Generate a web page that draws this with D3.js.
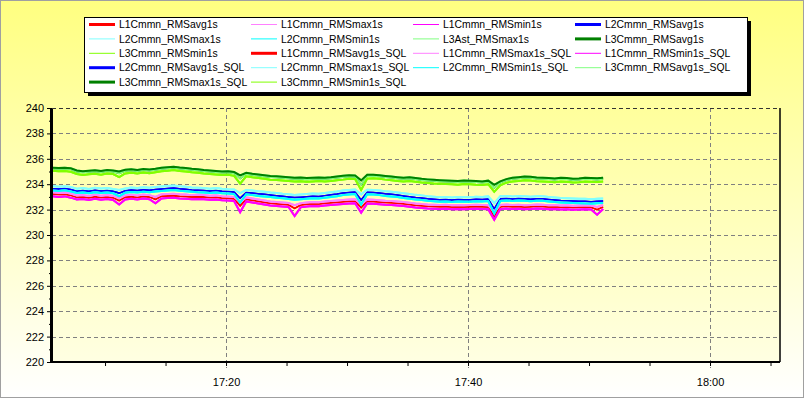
<!DOCTYPE html>
<html>
<head>
<meta charset="utf-8">
<script src="https://cdn.jsdelivr.net/npm/d3@7"></script>
<style>
  html, body { margin: 0; padding: 0; background: #fff; }
  svg { display: block; font-family: "Liberation Sans", Arial, sans-serif; }
</style>
</head>
<body>
<div id="chart"></div>
<script>
"use strict";

const W = 804, H = 398

// samples: every 30 s starting 17:05:40
const START = new Date(2020, 0, 1, 17, 5, 40)
const STEP_SEC = 30

const l1Avg = [233.22,233.18,233.20,233.12,232.98,233.00,232.94,233.02,232.96,233.00,232.94,232.70,232.98,233.02,232.98,233.04,233.00,232.80,233.06,233.08,233.10,233.06,233.04,233.00,233.02,233.00,232.96,232.98,232.92,232.90,232.86,232.30,232.82,232.74,232.66,232.58,232.50,232.46,232.42,232.38,232.10,232.36,232.42,232.46,232.44,232.50,232.54,232.58,232.62,232.66,232.68,232.15,232.66,232.64,232.60,232.56,232.54,232.50,232.46,232.40,232.34,232.30,232.26,232.24,232.22,232.24,232.20,232.22,232.20,232.22,232.24,232.22,232.20,231.45,232.22,232.26,232.22,232.24,232.20,232.22,232.26,232.24,232.20,232.22,232.18,232.20,232.16,232.18,232.20,232.18,232.00,232.22]
const l1Max = [233.36,233.32,233.34,233.26,233.12,233.14,233.08,233.16,233.10,233.14,233.08,232.90,233.12,233.16,233.12,233.18,233.14,233.00,233.20,233.22,233.24,233.20,233.18,233.14,233.16,233.14,233.10,233.12,233.06,233.04,233.00,232.60,232.96,232.88,232.80,232.72,232.64,232.60,232.56,232.52,232.35,232.50,232.56,232.60,232.58,232.64,232.68,232.72,232.76,232.80,232.82,232.45,232.80,232.78,232.74,232.70,232.68,232.64,232.60,232.54,232.48,232.44,232.40,232.38,232.36,232.38,232.34,232.36,232.34,232.36,232.38,232.36,232.34,231.85,232.36,232.40,232.36,232.38,232.34,232.36,232.40,232.38,232.34,232.36,232.32,232.34,232.30,232.32,232.34,232.32,232.20,232.36]
const l1Min = [233.06,233.00,233.04,232.94,232.80,232.84,232.76,232.86,232.78,232.84,232.76,232.40,232.80,232.86,232.80,232.88,232.82,232.50,232.88,232.92,232.94,232.88,232.86,232.82,232.84,232.82,232.78,232.80,232.74,232.72,232.68,231.80,232.64,232.56,232.48,232.40,232.32,232.28,232.24,232.20,231.50,232.18,232.24,232.28,232.26,232.32,232.36,232.40,232.44,232.48,232.50,231.75,232.48,232.46,232.42,232.38,232.36,232.32,232.28,232.22,232.16,232.12,232.08,232.06,232.04,232.06,232.02,232.04,232.02,232.04,232.06,232.04,232.02,231.20,232.04,232.08,232.04,232.06,232.02,232.04,232.08,232.06,232.02,232.04,232.00,232.02,231.98,232.00,232.02,232.00,231.60,232.04]

const l2Avg = [233.65,233.62,233.66,233.58,233.45,233.50,233.44,233.52,233.46,233.50,233.44,233.30,233.48,233.54,233.50,233.56,233.52,233.58,233.62,233.66,233.70,233.64,233.60,233.55,233.52,233.50,233.46,233.50,233.44,233.42,233.38,232.90,233.35,233.30,233.24,233.20,233.15,233.10,233.05,233.00,232.95,232.98,233.02,233.06,233.04,233.10,233.16,233.22,233.30,233.35,233.38,232.75,233.36,233.35,233.30,233.24,233.20,233.15,233.08,233.02,232.96,232.92,232.86,232.82,232.78,232.80,232.76,232.80,232.78,232.78,232.82,232.80,232.84,232.05,232.85,232.88,232.84,232.88,232.85,232.82,232.86,232.85,232.80,232.76,232.72,232.70,232.68,232.66,232.65,232.62,232.66,232.68]
const l2Max = [233.85,233.80,233.84,233.78,233.64,233.70,233.62,233.72,233.66,233.70,233.62,233.55,233.66,233.74,233.70,233.76,233.72,233.78,233.82,233.86,233.90,233.84,233.80,233.74,233.72,233.70,233.64,233.70,233.64,233.60,233.58,233.30,233.55,233.50,233.44,233.40,233.34,233.30,233.24,233.20,233.15,233.18,233.22,233.26,233.24,233.30,233.36,233.42,233.50,233.55,233.58,233.20,233.56,233.55,233.50,233.44,233.40,233.35,233.28,233.22,233.16,233.12,233.06,233.02,232.98,233.00,232.96,233.00,232.98,232.98,233.02,233.00,233.04,232.50,233.05,233.08,233.04,233.08,233.05,233.02,233.06,233.05,233.00,232.96,232.92,232.90,232.88,232.86,232.85,232.82,232.86,232.88]
const l2Min = [233.50,233.46,233.52,233.42,233.30,233.34,233.28,233.36,233.30,233.34,233.28,233.05,233.32,233.38,233.34,233.40,233.36,233.42,233.46,233.50,233.54,233.48,233.44,233.40,233.36,233.34,233.30,233.34,233.28,233.26,233.22,232.55,233.20,233.14,233.08,233.04,232.99,232.94,232.89,232.84,232.78,232.82,232.86,232.90,232.88,232.94,233.00,233.06,233.14,233.19,233.22,232.40,233.20,233.19,233.14,233.08,233.04,232.99,232.92,232.86,232.80,232.76,232.70,232.66,232.62,232.64,232.60,232.64,232.62,232.62,232.66,232.64,232.68,231.70,232.68,232.72,232.68,232.72,232.69,232.66,232.70,232.69,232.64,232.60,232.56,232.54,232.52,232.50,232.49,232.46,232.50,232.52]

const l3Avg = [235.22,235.20,235.21,235.18,234.98,234.92,234.96,235.00,234.94,235.02,234.98,234.85,235.04,235.08,235.02,235.10,235.05,235.12,235.20,235.24,235.30,235.22,235.18,235.12,235.08,235.02,234.98,234.95,234.90,234.92,234.85,234.45,234.80,234.72,234.66,234.60,234.55,234.52,234.48,234.45,234.40,234.42,234.38,234.40,234.43,234.40,234.44,234.50,234.55,234.60,234.58,233.95,234.62,234.65,234.60,234.55,234.50,234.45,234.40,234.44,234.38,234.32,234.28,234.25,234.22,234.20,234.18,234.15,234.20,234.18,234.15,234.12,234.18,233.70,234.10,234.30,234.40,234.45,234.50,234.48,234.42,234.40,234.38,234.35,234.40,234.38,234.32,234.35,234.40,234.38,234.36,234.40]
const l3Max = [235.30,235.28,235.30,235.26,235.08,235.02,235.06,235.10,235.04,235.12,235.08,235.00,235.14,235.18,235.12,235.20,235.16,235.22,235.30,235.34,235.38,235.32,235.28,235.22,235.18,235.12,235.08,235.04,235.00,235.02,234.96,234.70,234.90,234.82,234.76,234.70,234.64,234.62,234.58,234.55,234.50,234.52,234.48,234.50,234.53,234.50,234.54,234.60,234.66,234.70,234.68,234.30,234.74,234.75,234.70,234.65,234.60,234.55,234.50,234.54,234.48,234.42,234.38,234.35,234.32,234.30,234.28,234.26,234.30,234.28,234.26,234.22,234.28,233.95,234.22,234.40,234.50,234.55,234.60,234.58,234.52,234.50,234.48,234.45,234.50,234.48,234.42,234.45,234.50,234.48,234.46,234.50]
const l3Min = [235.05,235.02,235.04,234.98,234.80,234.72,234.78,234.82,234.74,234.84,234.80,234.55,234.85,234.90,234.84,234.92,234.86,234.94,235.02,235.06,235.12,235.04,235.00,234.94,234.90,234.84,234.80,234.76,234.72,234.74,234.66,234.05,234.62,234.54,234.48,234.42,234.36,234.34,234.30,234.26,234.22,234.24,234.20,234.22,234.25,234.22,234.26,234.32,234.36,234.42,234.40,233.55,234.44,234.46,234.42,234.36,234.32,234.26,234.22,234.26,234.20,234.14,234.10,234.06,234.04,234.02,234.00,233.96,234.02,234.00,233.96,233.94,234.00,233.40,233.92,234.12,234.22,234.26,234.32,234.30,234.24,234.22,234.20,234.16,234.22,234.20,234.14,234.16,234.22,234.20,234.18,234.22]

const seriesNames = [
  'L1Cmmn_RMSavg1s', 'L1Cmmn_RMSmax1s', 'L1Cmmn_RMSmin1s', 'L2Cmmn_RMSavg1s',
  'L2Cmmn_RMSmax1s', 'L2Cmmn_RMSmin1s', 'L3Ast_RMSmax1s', 'L3Cmmn_RMSavg1s',
  'L3Cmmn_RMSmin1s', 'L1Cmmn_RMSavg1s_SQL', 'L1Cmmn_RMSmax1s_SQL', 'L1Cmmn_RMSmin1s_SQL',
  'L2Cmmn_RMSavg1s_SQL', 'L2Cmmn_RMSmax1s_SQL', 'L2Cmmn_RMSmin1s_SQL', 'L3Cmmn_RMSavg1s_SQL',
  'L3Cmmn_RMSmax1s_SQL', 'L3Cmmn_RMSmin1s_SQL',
]
const seriesData = [
  l1Avg, l1Max, l1Min, l2Avg, l2Max, l2Min, l3Max, l3Avg, l3Min,
  l1Avg, l1Max, l1Min, l2Avg, l2Max, l2Min, l3Avg, l3Max, l3Min,
]
const seriesColors = [
  '#ff0000', '#ff80ff', '#ff00ff', '#0000ff', '#80ffff', '#00ffff', '#80ff80', '#008000',
  '#80ff00', '#ff0000', '#ff80ff', '#ff00ff', '#0000ff', '#80ffff', '#00ffff', '#80ff80',
  '#008000', '#80ff00',
]
const seriesWidths = [2, 1, 1, 2, 1, 1, 1, 2, 1, 2, 1, 1, 2, 1, 1, 1, 2, 1]
const isAvg = seriesNames.map(n => n.includes('avg'))

const yTicks = d3.range(220, 241, 2)
const xTickLabels = ['17:20', '17:40', '18:00']

const m = { left: 52, right: 780, top: 108, bottom: 362 }

const svg = d3.select('#chart').append('svg')
  .attr('width', W)
  .attr('height', H)

const defs = svg.append('defs')
const bgGrad = defs.append('linearGradient')
  .attr('id', 'bg').attr('x1', 0).attr('y1', 0).attr('x2', 0).attr('y2', 1)
bgGrad.append('stop').attr('offset', 0).attr('stop-color', '#ffff80')
bgGrad.append('stop').attr('offset', 1).attr('stop-color', '#ffffff')
const plotGrad = defs.append('linearGradient')
  .attr('id', 'plotbg').attr('x1', 0).attr('y1', 0).attr('x2', 0).attr('y2', 1)
plotGrad.append('stop').attr('offset', 0).attr('stop-color', '#ffff9c')
plotGrad.append('stop').attr('offset', 1).attr('stop-color', '#ffffe2')

svg.append('rect')
  .attr('x', 0.5).attr('y', 0.5)
  .attr('width', W - 1).attr('height', H - 1)
  .attr('fill', 'url(#bg)')
  .attr('stroke', '#a0a0a0')

svg.append('rect')
  .attr('x', m.left).attr('y', m.top)
  .attr('width', m.right - m.left).attr('height', m.bottom - m.top)
  .attr('fill', 'url(#plotbg)')

const day = (h, mi, s = 0) => new Date(2020, 0, 1, h, mi, s)

const x = d3.scaleTime()
  .domain([day(17, 5, 37), day(18, 5, 47)])
  .range([m.left, m.right])
const y = d3.scaleLinear()
  .domain([220, 240])
  .range([m.bottom, m.top])

const times = seriesData[0].map((_, i) => new Date(+START + i * STEP_SEC * 1000))
const majorTimes = xTickLabels.map(t => {
  const [h, mi] = t.split(':').map(Number)
  return day(h, mi)
})

// grid
const grid = svg.append('g')
  .attr('stroke', '#808080')
  .attr('stroke-dasharray', '4,3')
  .attr('shape-rendering', 'crispEdges')

grid.selectAll('line.h')
  .data(yTicks.filter(v => v > 220))
  .enter().append('line')
    .attr('class', 'h')
    .attr('x1', m.left).attr('x2', m.right)
    .attr('y1', d => Math.round(y(d)) + 0.5)
    .attr('y2', d => Math.round(y(d)) + 0.5)

grid.selectAll('line.v')
  .data(majorTimes)
  .enter().append('line')
    .attr('class', 'v')
    .attr('y1', m.top).attr('y2', m.bottom + 6)
    .attr('x1', d => Math.round(x(d)) + 0.5)
    .attr('x2', d => Math.round(x(d)) + 0.5)

// series: averages underneath, then max/min in legend order
const line = d3.line()
  .x((d, i) => x(times[i]))
  .y(d => y(d))

const allIdx = d3.range(seriesData.length)
const drawOrder = allIdx.filter(i => isAvg[i]).concat(allIdx.filter(i => !isAvg[i]))

svg.append('g')
  .selectAll('path')
  .data(drawOrder)
  .enter().append('path')
    .attr('d', i => line(seriesData[i]))
    .attr('fill', 'none')
    .attr('stroke', i => seriesColors[i])
    .attr('stroke-width', i => isAvg[i] ? 1.5 : 2)

// axes
const yAxis = d3.axisLeft(y)
  .tickValues(yTicks)
  .tickSize(4)
  .tickPadding(3)
  .tickFormat(d3.format('d'))

const yG = svg.append('g')
  .attr('transform', `translate(${m.left - 1},0)`)
  .call(yAxis)
yG.select('.domain').remove()
yG.selectAll('text')
  .attr('font-size', 11)
  .attr('fill', '#000')
  .attr('font-family', '"Liberation Sans", Arial, sans-serif')

svg.append('g')
  .attr('transform', `translate(${m.left - 1},0)`)
  .call(d3.axisLeft(y).tickValues(d3.range(221, 240, 2)).tickSize(2).tickFormat(''))
  .select('.domain').remove()

const xAxis = d3.axisBottom(x)
  .tickValues(majorTimes)
  .tickSize(6)
  .tickPadding(10)
  .tickFormat(d3.timeFormat('%H:%M'))

const xG = svg.append('g')
  .attr('transform', `translate(0,${m.bottom})`)
  .call(xAxis)
xG.select('.domain').remove()
xG.selectAll('line').remove()
xG.selectAll('text')
  .attr('font-size', 11)
  .attr('fill', '#000')
  .attr('font-family', '"Liberation Sans", Arial, sans-serif')

svg.append('g')
  .attr('transform', `translate(0,${m.bottom})`)
  .call(d3.axisBottom(x).ticks(d3.timeMinute.every(5)).tickSize(4).tickFormat(''))
  .select('.domain').remove()

// frame
svg.append('line')
  .attr('x1', m.left - 0.5).attr('x2', m.left - 0.5)
  .attr('y1', m.top).attr('y2', m.bottom + 1)
  .attr('stroke', '#000').attr('stroke-width', 3)
svg.append('line')
  .attr('x1', m.left).attr('x2', m.right)
  .attr('y1', m.bottom).attr('y2', m.bottom)
  .attr('stroke', '#000').attr('stroke-width', 2)
svg.append('line')
  .attr('x1', m.right).attr('x2', m.right)
  .attr('y1', m.top).attr('y2', m.bottom)
  .attr('stroke', '#000').attr('stroke-width', 1.5)
svg.append('line')
  .attr('x1', m.left).attr('x2', m.right)
  .attr('y1', m.top + 0.5).attr('y2', m.top + 0.5)
  .attr('stroke', '#333').attr('stroke-dasharray', '4,3')

// legend
const lg = { x: 84, y: 17, w: 663, h: 75 }
svg.append('rect')
  .attr('x', lg.x + 4).attr('y', lg.y + 4)
  .attr('width', lg.w).attr('height', lg.h)
  .attr('fill', '#000')
svg.append('rect')
  .attr('x', lg.x + 0.5).attr('y', lg.y + 0.5)
  .attr('width', lg.w).attr('height', lg.h)
  .attr('fill', '#fff').attr('stroke', '#000')

const colX = [89, 251, 413, 575]
const items = svg.append('g')
  .selectAll('g')
  .data(seriesNames)
  .enter().append('g')
    .attr('transform', (d, i) => `translate(${colX[i % 4]},${24.5 + Math.floor(i / 4) * 14.4})`)

items.append('line')
  .attr('x1', 0).attr('x2', 26)
  .attr('stroke', (d, i) => seriesColors[i])
  .attr('stroke-width', (d, i) => seriesWidths[i] === 2 ? 3 : 1)
items.append('text')
  .attr('x', 30)
  .attr('dy', '0.35em')
  .attr('font-size', 10.4)
  .attr('fill', '#000')
  .text(d => d)
</script>
</body>
</html>
